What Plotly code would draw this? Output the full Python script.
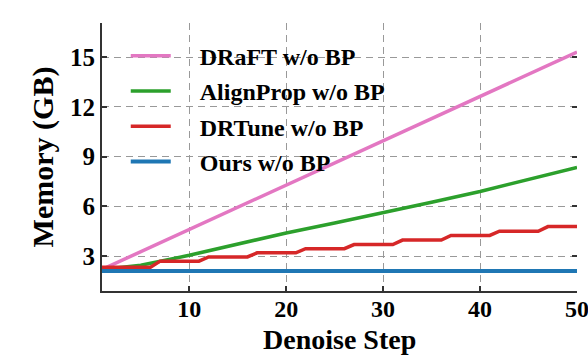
import plotly.graph_objects as go

steps = list(range(1, 51))

# DRaFT w/o BP (approximately linear growth)
draft_x = [1, 10, 20, 30, 40, 50]
draft_y = [2.2, 4.6, 7.3, 9.95, 12.6, 15.3]

# AlignProp w/o BP
align_x = [1, 5, 10, 15, 20, 25, 30, 35, 40, 45, 50]
align_y = [2.2, 2.45, 3.05, 3.75, 4.4, 5.0, 5.6, 6.25, 6.9, 7.6, 8.35]

# DRTune w/o BP (step-wise)
drtune_y = ([2.33] * 6 + [2.7] * 5 + [2.95] * 5 + [3.2] * 5 + [3.45] * 5 +
            [3.7] * 5 + [3.97] * 5 + [4.25] * 5 + [4.5] * 5 + [4.78] * 4)

# Ours w/o BP (constant)
ours_y = [2.1] * 50

names = ["DRaFT w/o BP", "AlignProp w/o BP", "DRTune w/o BP", "Ours w/o BP"]
colors = ["#e377c2", "#2ca02c", "#d62728", "#1f77b4"]

FONT = "Liberation Serif"
pad = "\u00a0" * 4

fig = go.Figure()
series = [(draft_x, draft_y), (align_x, align_y), (steps, drtune_y), (steps, ours_y)]
for i, ((xs, ys), n, c) in enumerate(zip(series, names, colors)):
    fig.add_trace(go.Scatter(x=xs, y=ys, mode="lines", name=pad + n,
                             line=dict(color=c, width=4 if i == 3 else 3.5),
                             legendgroup=f"g{i}"))

# invisible trace for right-side mirrored ticks
fig.add_trace(go.Scatter(x=[1], y=[2], yaxis="y2", mode="markers",
                         marker=dict(opacity=0), showlegend=False, hoverinfo="skip"))

axis_common = dict(showline=True, linecolor="#333", linewidth=2,
                   ticks="inside", ticklen=5, tickwidth=1.5, tickcolor="#333",
                   showgrid=True, gridcolor="#999999", gridwidth=1.4, griddash="7px,5px",
                   zeroline=False, ticklabeloverflow="allow", automargin=False)

fig.update_layout(
    width=588, height=356,
    margin=dict(l=102, r=11, t=23, b=65),
    plot_bgcolor="white", paper_bgcolor="white",
    font=dict(family=FONT, color="black"),
    xaxis=dict(range=[1, 50], tickvals=[10, 20, 30, 40, 50],
               tickfont=dict(family=FONT, size=24, color="black", weight="bold"),
               ticklabelstandoff=-5,
               **axis_common),
    yaxis=dict(range=[0.9, 17.05], tickvals=[3, 6, 9, 12, 15],
               tickfont=dict(family=FONT, size=25, color="black", weight="bold"),
               title=dict(text="<b>Memory (GB)</b>", font=dict(family=FONT, size=30), standoff=8),
               **axis_common),
    yaxis2=dict(overlaying="y", side="right", range=[0.9, 17.05], tickvals=[3, 6, 9, 12, 15],
                showline=False, ticks="inside", ticklen=5, tickwidth=1.5, tickcolor="#333",
                showticklabels=False, showgrid=False, zeroline=False, automargin=False),
    legend=dict(x=0.05, y=0.96, xanchor="left", yanchor="top",
                bgcolor="rgba(0,0,0,0)", borderwidth=0,
                font=dict(family=FONT, size=24, color="black", weight="bold"),
                tracegroupgap=1, itemwidth=40),
    showlegend=True,
    annotations=[dict(text="<b>Denoise Step</b>", xref="paper", yref="paper",
                      x=0.5, y=0, yshift=-66, xanchor="center", yanchor="bottom",
                      showarrow=False, font=dict(family=FONT, size=28, color="black"))],
)

fig.write_html("out.html")
